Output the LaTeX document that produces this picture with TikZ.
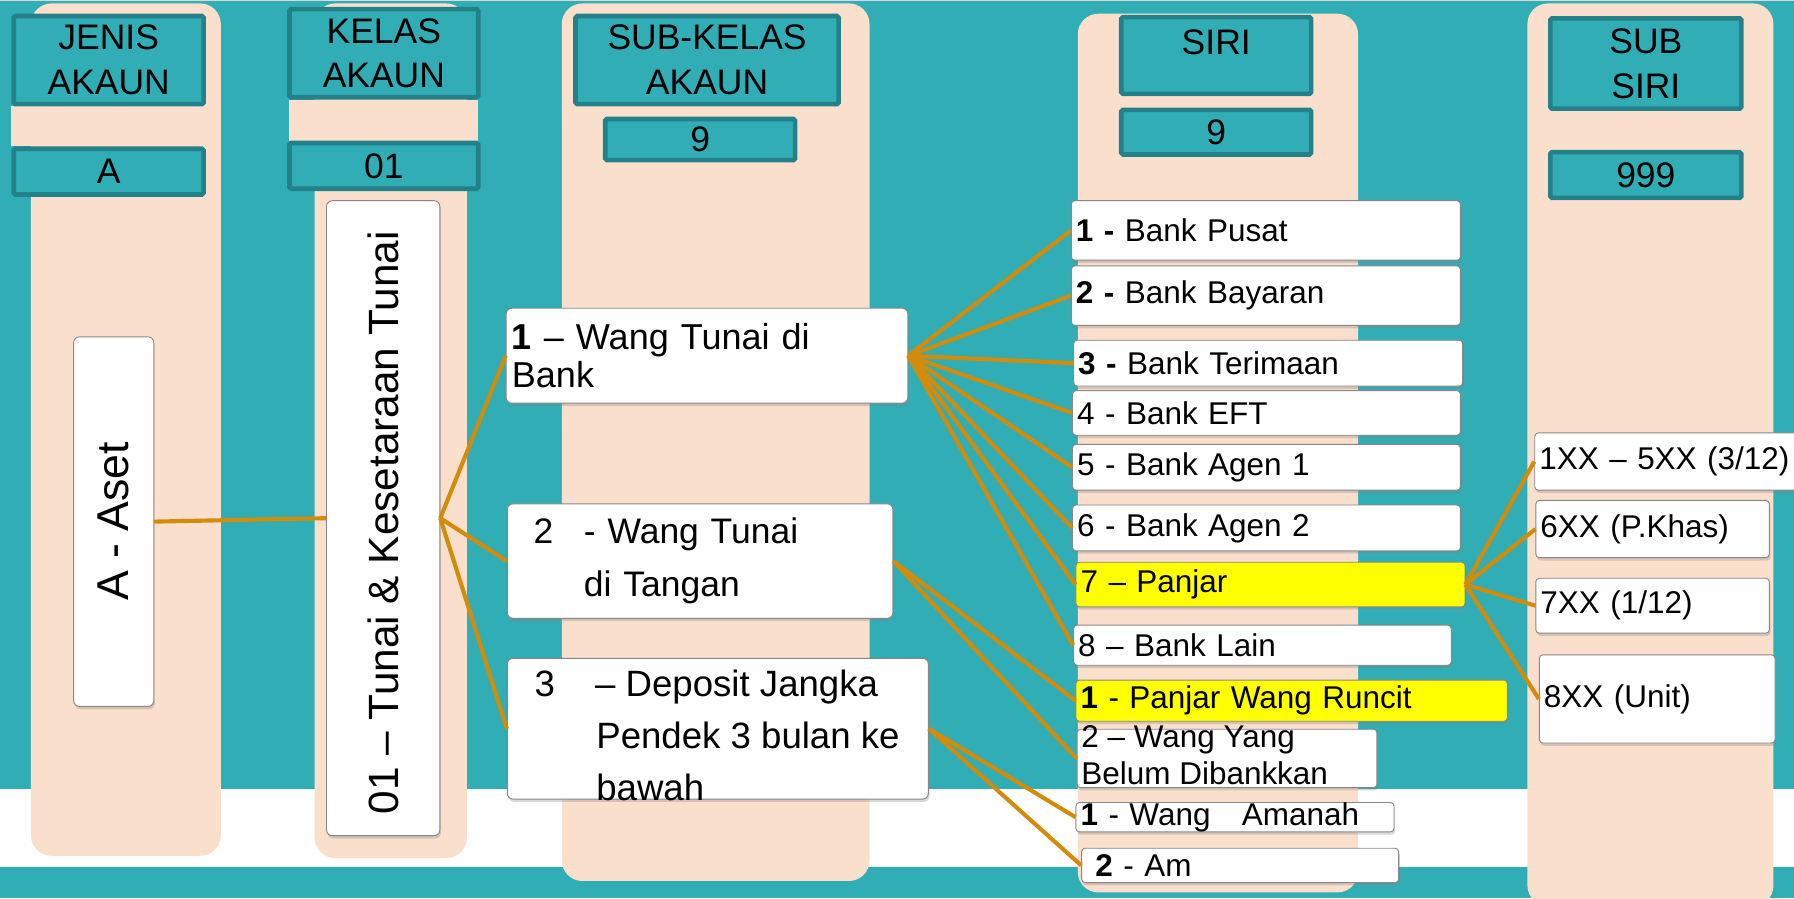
\documentclass[tikz,border=0pt]{standalone}
\usepackage{fontspec}
\setmainfont{Liberation Sans}
\usepackage{graphicx}
\usetikzlibrary{shadows}
\definecolor{bg}{RGB}{49,173,181}
\definecolor{hdrline}{RGB}{36,128,137}
\definecolor{peach}{RGB}{250,223,205}
\definecolor{conn}{RGB}{210,140,10}
\definecolor{boxline}{RGB}{135,135,135}
\definecolor{yel}{RGB}{255,255,0}
\newcommand{\myfs}[2]{\fontsize{#1}{#2}\selectfont}
% name, style, x1, y1, x2, y2, xsep, text
\newcommand{\tbox}[8]{%
  \pgfmathsetmacro\tbW{#5-#3}\pgfmathsetmacro\tbH{#6-#4}\pgfmathsetmacro\tbT{#5-#3-2*#7}%
  \node[#2, inner xsep=#7pt, inner ysep=0pt, minimum width=\tbW pt, minimum height=\tbH pt,
        text width=\tbT pt, align=left, anchor=north west] (#1) at (#3,#4) {#8};}
% name, x1, y1, x2, y2, text
\newcommand{\hbx}[6]{%
  \pgfmathsetmacro\tbW{#4-#2-4}\pgfmathsetmacro\tbH{#5-#3-4}%
  \node[hdr, minimum width=\tbW pt, minimum height=\tbH pt] (#1) at ({(#2+#4)/2},{(#3+#5)/2}) {#6};}
\begin{document}
\begin{tikzpicture}[x=1pt,y=-1pt,
  col/.style={fill=peach, rounded corners=18pt},
  hdr/.style={draw=hdrline, line width=4pt, fill=bg, inner sep=0pt, align=center, rounded corners=1.5pt, font=\myfs{31}{39}},
  wbox/.style={draw=boxline, line width=0.8pt, fill=white, rounded corners=5pt,
    drop shadow={shadow xshift=1pt, shadow yshift=-2.5pt, opacity=0.3}},
  sbox/.style={wbox, rounded corners=3pt, font=\myfs{27.5}{32}},
  ybox/.style={sbox, fill=yel},
  txt/.style={inner sep=0pt, align=left},
  link/.style={draw=conn, line width=3.6pt}
]
\useasboundingbox (0,0) rectangle (1568,785);
\fill[bg] (0,0) rectangle (1568,785);
\fill[white] (0,690) rectangle (1568,758);
\fill[black!15] (0,0) rectangle (1568,1.3);
% columns
\fill[col] (27,3) rectangle (193,748);
\fill[col] (275,3) rectangle (408,750);
\fill[col] (491,3) rectangle (760,770);
\fill[col] (942,12) rectangle (1187,780);
\fill[col] (1335,3) rectangle (1550,792);
\fill[peach] (10,93) rectangle (178,128);
\fill[peach] (253,87) rectangle (418,123);
% headers
\hbx{h1}{10}{12}{180}{93}{JENIS\\AKAUN}
\hbx{v1}{10}{128}{180}{172}{A}
\hbx{h2}{251}{6}{420}{87}{KELAS\\AKAUN}
\hbx{v2}{251}{123}{420}{167}{01}
\hbx{h3}{501}{12}{735}{93}{SUB-KELAS\\AKAUN}
\hbx{v3}{527}{102}{697}{142}{9}
\hbx{h4}{978}{13}{1148}{84}{}
\node[txt, font=\myfs{31}{39}] (h4t) at (1063,37) {SIRI};
\hbx{v4}{978}{94}{1148}{137}{9}
\hbx{h5}{1353}{14}{1524}{97}{SUB\\SIRI}
\hbx{v5}{1353}{131}{1524}{175}{999}
% vertical boxes
\node[wbox, minimum width=70pt, minimum height=323pt, anchor=north west] (aset) at (64,294)
  {\rotatebox{90}{\myfs{39}{39}A - Aset}};
\node[wbox, minimum width=99pt, minimum height=555pt, anchor=north west] (t01) at (285,175)
  {\rotatebox{90}{\myfs{37}{37}\hspace*{-8pt}01 – Tunai \& Kesetaraan Tunai}};
% sub-kelas boxes
\tbox{w1}{wbox,font=\myfs{31.5}{33}}{442}{269}{793}{352}{5}{\textbf{1} – Wang Tunai di\\Bank}
\tbox{w2}{wbox,font=\myfs{31}{46}}{443}{440}{780}{540}{23}{\makebox[44pt][l]{2}- Wang Tunai\\\hspace*{44pt}di Tangan}
\tbox{w3}{wbox}{443}{575}{811}{698}{5}{}
\node[txt, font=\myfs{32}{45.5}, anchor=west] (w3t) at (467,643)
  {\makebox[53pt][l]{3}– Deposit Jangka\\\hspace*{54pt}Pendek 3 bulan ke\\\hspace*{54pt}bawah};
% siri boxes
\tbox{s1}{sbox}{936}{175}{1276}{227}{4}{\textbf{1 -} Bank Pusat}
\tbox{s2}{sbox}{936}{232}{1276}{284}{4}{\textbf{2 -} Bank Bayaran}
\tbox{s3}{sbox}{938}{297}{1278}{337}{4}{\textbf{3 -} Bank Terimaan}
\tbox{s4}{sbox}{937}{341}{1276}{380}{4}{4 - Bank EFT}
\tbox{s5}{sbox}{937}{388}{1276}{428}{4}{5 - Bank Agen 1}
\tbox{s6}{sbox}{937}{441}{1276}{481}{4}{6 - Bank Agen 2}
\tbox{s7}{ybox}{940}{491}{1280}{530}{4}{7 – Panjar}
\tbox{s8}{sbox}{938}{546}{1268}{581}{4}{8 – Bank Lain}
\tbox{s9}{ybox}{940}{594}{1317}{630}{4}{\textbf{1} - Panjar Wang Runcit}
\tbox{s10}{sbox}{941}{637}{1203}{688}{4}{}
\node[txt, font=\myfs{27.5}{32}, anchor=west] (s10t) at (945,660) {2 – Wang Yang\\Belum Dibankkan};
\tbox{s11}{sbox}{940}{701}{1218}{726}{4}{\textbf{1} - Wang\ \ \ Amanah}
\tbox{s12}{sbox}{945}{741}{1222}{771}{12}{\textbf{2} - Am}
% sub siri boxes
\tbox{u1}{sbox}{1341}{378}{1574}{428}{4}{1XX – 5XX (3/12)}
\tbox{u2}{sbox}{1342}{437}{1546}{487}{4}{6XX (P.Khas)}
\tbox{u3}{sbox}{1342}{505}{1546}{553}{4}{7XX (1/12)}
\tbox{u4}{sbox}{1345}{572}{1551}{649}{4}{8XX (Unit)}
% connectors
\draw[link] (aset.east) -- (t01.west);
\foreach \t in {w1,w2,w3} \draw[link] (t01.east) -- (\t.west);
\foreach \t in {s1,s2,s3,s4,s5,s6,s7,s8} \draw[link] (w1.east) -- (\t.west);
\draw[link] (w2.east) -- (s9.west);
\draw[link] (w2.east) -- (s10.west);
\draw[link] (w3.east) -- (s11.west);
\draw[link] (w3.east) -- (s12.west);
\foreach \t in {u1,u2,u3,u4} \draw[link] (s7.east) -- (\t.west);
\end{tikzpicture}
\end{document}
